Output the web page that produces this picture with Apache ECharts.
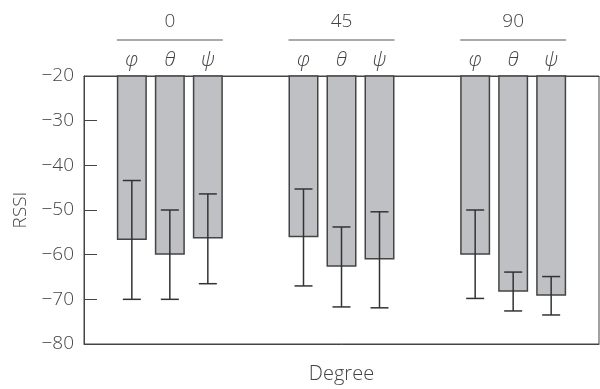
<!DOCTYPE html>
<html>
<head>
<meta charset="utf-8">
<script src="https://cdn.jsdelivr.net/npm/echarts@6/dist/echarts.min.js"></script>
<style>
  html, body { margin: 0; padding: 0; background: #fff; }
  #chart { width: 600px; height: 389px; }
</style>
</head>
<body>
<div id="chart"></div>
<script>
// Orientation groups (degrees) and the three rotation angles shown in each group
const degrees = ['0', '45', '90'];
const angleNames = ['φ', 'θ', 'ψ'];

// Mean RSSI per angle, one value per degree group
const phiMean = [-56.7, -56.1, -60.0];
const thetaMean = [-60.0, -62.7, -68.3];
const psiMean = [-56.4, -61.1, -69.2];

// Error bar extents (low, high) per angle
const phiLow = [-70.0, -67.0, -69.8];
const phiHigh = [-43.4, -45.3, -50.0];
const thetaLow = [-70.0, -71.7, -72.6];
const thetaHigh = [-50.0, -53.8, -63.9];
const psiLow = [-66.5, -71.9, -73.5];
const psiHigh = [-46.4, -50.4, -64.9];

// Value axis range
const yMin = -80;
const yMax = -20;
const yStep = 10;

const BAR_W = 30;
const BAR_GAP = 8;
const PITCH = BAR_W + BAR_GAP;
const TEXT = '#444';
const LINE = '#444';
const FONT = '"Open Sans", "DejaVu Sans", sans-serif';
const WEIGHT = 300;

const means = [phiMean, thetaMean, psiMean];
const lows = [phiLow, thetaLow, psiLow];
const highs = [phiHigh, thetaHigh, psiHigh];

const errData = [];
for (let c = 0; c < degrees.length; c++) {
  for (let k = 0; k < angleNames.length; k++) {
    errData.push([c, k, lows[k][c], highs[k][c]]);
  }
}

const barSeries = angleNames.map((name, k) => ({
  type: 'bar',
  name: name,
  data: means[k],
  barWidth: BAR_W,
  barGap: (BAR_GAP / BAR_W * 100).toFixed(2) + '%',
  clip: true,
  itemStyle: { color: '#bfc0c4', borderColor: LINE, borderWidth: 1.5 },
  silent: true
}));

function renderErr(params, api) {
  const c = api.value(0);
  const k = api.value(1);
  const lo = api.coord([c, api.value(2)]);
  const hi = api.coord([c, api.value(3)]);
  const top = api.coord([c, yMax]);
  const x = lo[0] + (k - 1) * PITCH;
  const cap = 9;
  const ls = { stroke: '#333', lineWidth: 1.5 };
  const children = [
    { type: 'line', shape: { x1: x, y1: hi[1], x2: x, y2: lo[1] }, style: ls },
    { type: 'line', shape: { x1: x - cap, y1: hi[1], x2: x + cap, y2: hi[1] }, style: ls },
    { type: 'line', shape: { x1: x - cap, y1: lo[1], x2: x + cap, y2: lo[1] }, style: ls },
    {
      type: 'text',
      style: {
        x: x, y: top[1] - 16, text: angleNames[k],
        fill: TEXT, font: 'italic 300 20px ' + FONT,
        align: 'center', verticalAlign: 'middle'
      }
    }
  ];
  if (k === 1) {
    const half = PITCH + BAR_W / 2;
    children.push({
      type: 'line',
      shape: { x1: top[0] - half, y1: top[1] - 36, x2: top[0] + half, y2: top[1] - 36 },
      style: { stroke: '#555', lineWidth: 1.2 }
    });
  }
  return { type: 'group', children: children };
}

const chart = echarts.init(document.getElementById('chart'));
chart.setOption({
  animation: false,
  backgroundColor: '#fff',
  textStyle: { fontFamily: FONT },
  grid: {
    left: 84, right: 1, top: 76, bottom: 44,
    show: true, borderColor: LINE, borderWidth: 1
  },
  xAxis: [
    {
      type: 'category',
      data: degrees,
      position: 'bottom',
      axisLine: { lineStyle: { color: LINE, width: 1 } },
      axisTick: { show: false },
      axisLabel: { show: false },
      name: 'Degree',
      nameLocation: 'middle',
      nameGap: 20,
      nameTextStyle: { color: TEXT, fontSize: 20, fontWeight: WEIGHT, fontFamily: FONT }
    },
    {
      type: 'category',
      data: degrees,
      position: 'top',
      axisLine: { lineStyle: { color: LINE, width: 1 } },
      axisTick: { show: false },
      axisLabel: { color: TEXT, fontSize: 19, fontWeight: WEIGHT, margin: 45, fontFamily: FONT }
    }
  ],
  yAxis: {
    type: 'value',
    min: yMin,
    max: yMax,
    interval: yStep,
    splitLine: { show: false },
    axisLine: { show: true, lineStyle: { color: LINE, width: 1 } },
    axisTick: { show: true, inside: true, length: 13, lineStyle: { color: LINE, width: 1 } },
    axisLabel: {
      color: TEXT, fontSize: 19, fontWeight: WEIGHT, margin: 10, fontFamily: FONT,
      formatter: v => String(v).replace('-', '\u2212')
    },
    name: 'RSSI',
    nameLocation: 'middle',
    nameGap: 50,
    nameTextStyle: { color: TEXT, fontSize: 19, fontWeight: WEIGHT, fontFamily: FONT }
  },
  series: barSeries.concat([{
    type: 'custom',
    renderItem: renderErr,
    data: errData,
    encode: { x: 0, y: [2, 3] },
    clip: false,
    silent: true,
    z: 5
  }])
});
</script>
</body>
</html>
